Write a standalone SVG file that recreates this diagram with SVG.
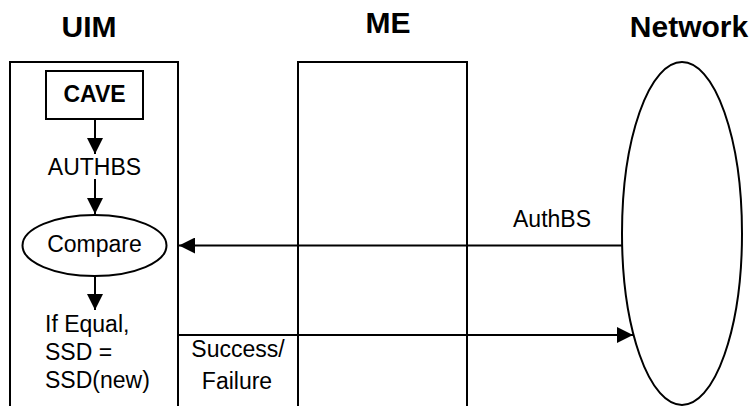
<svg xmlns="http://www.w3.org/2000/svg" width="755" height="406" viewBox="0 0 755 406">
  <defs>
    <marker id="ah" viewBox="0 0 16 16" refX="16" refY="8" markerWidth="16" markerHeight="16" markerUnits="userSpaceOnUse" orient="auto">
      <path d="M0,0 L16,8 L0,16 Z" fill="#000"/>
    </marker>
    <style>
      .t { font-family: "Liberation Sans", Arial, sans-serif; fill: #000; }
      .title { font-size: 30px; font-weight: bold; text-anchor: middle; }
      .body { font-size: 23px; }
      .c { text-anchor: middle; }
      .shape { fill: #fff; stroke: #000; stroke-width: 2; }
      .line { stroke: #000; stroke-width: 2; fill: none; }
    </style>
  </defs>
  <rect width="755" height="406" fill="#fff"/>

  <g id="uim">
    <text class="t title" x="89" y="37">UIM</text>
    <rect class="shape" x="10" y="62" width="168" height="360"/>
  </g>
  <g id="me">
    <text class="t title" x="388" y="33">ME</text>
    <rect class="shape" x="298" y="62" width="169" height="360"/>
  </g>
  <g id="network">
    <text class="t title" x="689" y="37">Network</text>
    <ellipse class="shape" cx="682" cy="233.5" rx="60" ry="171.5"/>
  </g>
  <g id="cave">
    <rect class="shape" x="46" y="71" width="97" height="48"/>
    <text class="t body c" x="94.5" y="102" font-weight="bold">CAVE</text>
  </g>
  <g id="authbs">
    <text class="t body c" x="94.5" y="175">AUTHBS</text>
  </g>
  <g id="compare">
    <ellipse class="shape" cx="94.5" cy="245.5" rx="72" ry="30.5"/>
    <text class="t body c" x="94.5" y="252">Compare</text>
  </g>
  <g id="ifequal">
    <text class="t body" x="45" y="332">If Equal,</text>
    <text class="t body" x="45" y="360">SSD =</text>
    <text class="t body" x="45" y="388">SSD(new)</text>
  </g>

  <g id="connectors">
    <line class="line" x1="95" y1="119" x2="95" y2="154" marker-end="url(#ah)"/>
    <line class="line" x1="95" y1="179" x2="95" y2="214" marker-end="url(#ah)"/>
    <line class="line" x1="95" y1="276" x2="95" y2="310" marker-end="url(#ah)"/>
    <line class="line" x1="622" y1="245.5" x2="179" y2="245.5" marker-end="url(#ah)"/>
    <text class="t body c" x="552" y="227">AuthBS</text>
    <line class="line" x1="178" y1="335" x2="633" y2="335" marker-end="url(#ah)"/>
    <text class="t body c" x="238" y="357">Success/</text>
    <text class="t body c" x="237" y="389">Failure</text>
  </g>
</svg>
